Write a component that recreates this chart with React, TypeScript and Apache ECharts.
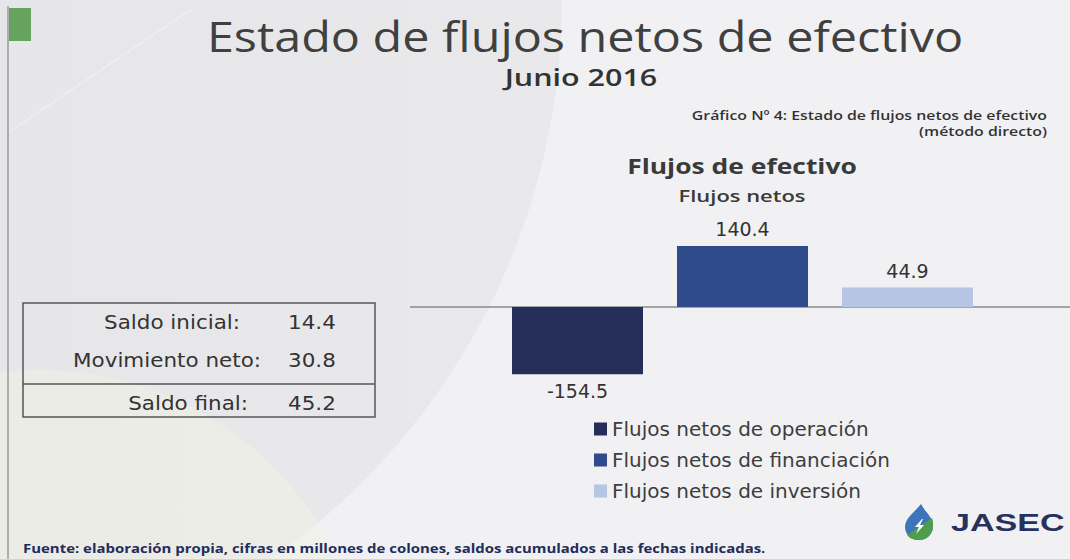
import React, { useEffect, useRef } from "react";
import * as echarts from "echarts";

// ---- data ----
const categories = ["Operación", "Financiación", "Inversión"];
const seriesNames = [
  "Flujos netos de operación",
  "Flujos netos de financiación",
  "Flujos netos de inversión",
];
const flowValues = [-154.5, 140.4, 44.9];
const seriesColors = ["#252e58", "#2f4b8c", "#b6c5e4"];

const tableLabels = ["Saldo inicial:", "Movimiento neto:", "Saldo final:"];
const tableValues = [14.4, 30.8, 45.2];

const titleText = "Estado de flujos netos de efectivo";
const subtitleText = "Junio 2016";
const captionLines = [
  "Gráfico Nº 4: Estado de flujos netos de efectivo",
  "(método directo)",
];
const chartTitle = "Flujos de efectivo";
const chartSubtitle = "Flujos netos";
const footerText =
  "Fuente: elaboración propia, cifras en millones de colones, saldos acumulados a las fechas indicadas.";
const brandText = "JASEC";

// ---- logo shapes ----
echarts.graphic.registerShape(
  "jasecDrop",
  echarts.graphic.extendPath(
    "M18 0 C12 8 2 14 2 23 C2 30.5 8.5 36 16 36 C24 36 30 30 30 22 C30 13 22 8 18 0 Z",
    {}
  )
);
echarts.graphic.registerShape(
  "jasecLeaf",
  echarts.graphic.extendPath(
    "M4 31 L29 14 C30 16.5 30 19 30 22 C30 30 24 36 16 36 C10.5 36 6 34 4 31 Z",
    {}
  )
);
echarts.graphic.registerShape(
  "jasecBolt",
  echarts.graphic.extendPath("M19 15 L12 23 L16 23 L13 30 L21 21 L17 21 L20 15 Z", {})
);

function txt(
  text: string,
  x: number,
  y: number,
  o: {
    size: number;
    weight?: string | number;
    family?: string;
    color?: string;
    align?: string;
    scaleX?: number;
  }
) {
  const align = o.align || "center";
  return {
    type: "text",
    x,
    y,
    scaleX: o.scaleX || 1,
    z: 20,
    silent: true,
    style: {
      text,
      fontSize: o.size,
      fontWeight: o.weight || "normal",
      fontFamily: o.family || "Open Sans",
      fill: o.color || "#3f3f3f",
      textAlign: align,
      align,
      textVerticalAlign: "middle",
      verticalAlign: "middle",
    },
  };
}

function buildGraphic(): any[] {
  const els: any[] = [];
  // background decoration
  els.push({
    type: "circle",
    z: -10,
    silent: true,
    shape: { cx: -120, cy: 0, r: 682 },
    style: {
      fill: {
        type: "linear",
        x: 0,
        y: 0,
        x2: 1,
        y2: 0,
        colorStops: [
          { offset: 0, color: "#e3e3e5" },
          { offset: 1, color: "#e9e9eb" },
        ],
      },
    },
  });
  els.push({
    type: "circle",
    z: -9,
    silent: true,
    shape: { cx: 40, cy: 700, r: 330 },
    style: { fill: "rgba(240,241,228,0.5)" },
  });
  els.push({
    type: "line",
    z: -8,
    silent: true,
    shape: { x1: 9, y1: 132, x2: 190, y2: 10 },
    style: { stroke: "rgba(255,255,255,0.35)", lineWidth: 1.5 },
  });
  // slide frame
  els.push({
    type: "line",
    z: -5,
    silent: true,
    shape: { x1: 8, y1: 6, x2: 8, y2: 559 },
    style: { stroke: "#9a9a9c", lineWidth: 1.5 },
  });
  els.push({
    type: "rect",
    z: -4,
    silent: true,
    shape: { x: 9, y: 8, width: 22, height: 33 },
    style: { fill: "#66a35c" },
  });

  // titles
  els.push(txt(titleText, 585, 36, { size: 42, color: "#404040", scaleX: 1.155 }));
  els.push(
    txt(subtitleText, 581, 77, { size: 24, weight: 600, color: "#333333", scaleX: 1.27 })
  );
  els.push(
    txt(captionLines[0], 1047, 115, {
      size: 12.5,
      weight: 600,
      color: "#333333",
      align: "right",
      scaleX: 1.27,
    })
  );
  els.push(
    txt(captionLines[1], 1047, 131, {
      size: 12.5,
      weight: 600,
      color: "#333333",
      align: "right",
      scaleX: 1.27,
    })
  );
  els.push(
    txt(chartTitle, 742, 166, { size: 21, weight: "bold", color: "#3a3a3a", scaleX: 1.26 })
  );
  els.push(
    txt(chartSubtitle, 742, 196, { size: 16.5, weight: 600, color: "#3a3a3a", scaleX: 1.33 })
  );

  // summary table
  els.push({
    type: "rect",
    z: 5,
    silent: true,
    shape: { x: 23, y: 303, width: 352, height: 114 },
    style: { fill: "rgba(0,0,0,0)", stroke: "#555555", lineWidth: 1.5 },
  });
  els.push({
    type: "line",
    z: 5,
    silent: true,
    shape: { x1: 23, y1: 384, x2: 375, y2: 384 },
    style: { stroke: "#555555", lineWidth: 1.5 },
  });
  const rowY = [322, 360, 403];
  const labelRight = [240, 261, 248];
  tableLabels.forEach((lab, i) => {
    els.push(
      txt(lab, labelRight[i], rowY[i], {
        size: 19,
        family: "DejaVu Sans",
        color: "#333333",
        align: "right",
        scaleX: 1.13,
      })
    );
    els.push(
      txt(tableValues[i].toFixed(1), 288, rowY[i], {
        size: 19,
        family: "DejaVu Sans",
        color: "#333333",
        align: "left",
        scaleX: 1.13,
      })
    );
  });

  // footer
  els.push(
    txt(footerText, 23, 549, {
      size: 11.5,
      weight: "bold",
      color: "#1f2d5c",
      align: "left",
      scaleX: 1.3,
    })
  );

  // JASEC logo
  els.push({
    type: "jasecDrop",
    z: 20,
    silent: true,
    x: 903,
    y: 504,
    style: { fill: "#3d74ba" },
  });
  els.push({
    type: "jasecLeaf",
    z: 21,
    silent: true,
    x: 903,
    y: 504,
    style: { fill: "#4f9d4c" },
  });
  els.push({
    type: "jasecBolt",
    z: 22,
    silent: true,
    x: 903,
    y: 504,
    style: { fill: "#ffffff" },
  });
  els.push(
    txt(brandText, 951, 522, {
      size: 24,
      weight: "bold",
      family: "Liberation Sans",
      color: "#26315f",
      align: "left",
      scaleX: 1.42,
    })
  );
  return els;
}

export default function App() {
  const ref = useRef<HTMLDivElement>(null);

  useEffect(() => {
    if (!ref.current) return;
    const chart = echarts.init(ref.current, null, { renderer: "svg" });
    const baseGraphic = buildGraphic();
    chart.setOption({
      animation: false,
      backgroundColor: "transparent",
      grid: { left: 495, right: 80, top: 220, height: 174, containLabel: false },
      legend: {
        orient: "vertical",
        left: 589,
        top: 414,
        itemWidth: 13,
        itemHeight: 13,
        itemGap: 11,
        icon: "rect",
        selectedMode: false,
        data: seriesNames,
        textStyle: { fontFamily: "DejaVu Sans", fontSize: 20, color: "#3d3d3d" },
      },
      xAxis: {
        type: "category",
        data: categories,
        axisLine: { show: false },
        axisTick: { show: false },
        axisLabel: { show: false },
        splitLine: { show: false },
      },
      yAxis: {
        type: "value",
        min: -200,
        max: 200,
        show: false,
        splitLine: { show: false },
      },
      series: seriesNames.map((name, i) => ({
        type: "bar",
        name,
        stack: "flujos",
        barWidth: 131,
        itemStyle: { color: seriesColors[i] },
        label: {
          show: true,
          position: flowValues[i] < 0 ? "bottom" : "top",
          distance: 7,
          fontFamily: "DejaVu Sans",
          fontSize: 19,
          color: "#333333",
          formatter: (p: any) => Number(p.value).toFixed(1),
        },
        data: categories.map((_, j) => (j === i ? flowValues[i] : "-")),
      })),
      graphic: baseGraphic,
    });
    const y0 = chart.convertToPixel({ yAxisIndex: 0 }, 0) as number;
    chart.setOption({
      graphic: [
        ...baseGraphic,
        {
          type: "line",
          z: 1,
          silent: true,
          shape: { x1: 410, y1: y0, x2: 1070, y2: y0 },
          style: { stroke: "#8a8a8a", lineWidth: 1.5 },
        },
      ],
    });
    return () => chart.dispose();
  }, []);

  return (
    <div
      ref={ref}
      style={{
        position: "fixed",
        left: 0,
        top: 0,
        width: 1070,
        height: 559,
        background: "#f1f1f3",
      }}
    />
  );
}
